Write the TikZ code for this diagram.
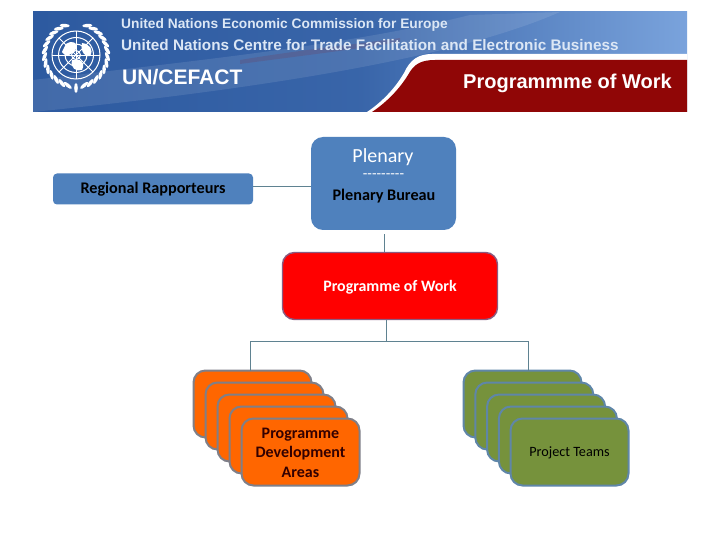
\documentclass[tikz,border=0pt]{standalone}
\usepackage{fontspec}
\setmainfont{Carlito}
\newfontfamily\bannerfont{Liberation Sans}
\usetikzlibrary{shapes.geometric,calc}
\definecolor{bluefill}{HTML}{4F81BD}
\definecolor{linecol}{HTML}{5F8291}
\definecolor{redborder}{HTML}{8A5A80}
\definecolor{orangefill}{HTML}{FF6600}
\definecolor{orangeborder}{HTML}{7F7F88}
\definecolor{greenfill}{HTML}{76923C}
\definecolor{greenborder}{HTML}{5F86A8}
\definecolor{bannerdark}{HTML}{2D5AA0}
\definecolor{bannerlight}{HTML}{7AA3DC}
\definecolor{bannerred}{HTML}{900606}
\definecolor{bannertext}{HTML}{DCE7F5}
\tikzset{
  boxbase/.style={rounded corners=12pt,inner sep=0pt,align=center,outer sep=0pt},
  bluebox/.style={boxbase,fill=bluefill},
  redbox/.style={boxbase,fill=red,draw=redborder,line width=1.4pt,minimum width=215pt,minimum height=67pt},
  orangebox/.style={boxbase,fill=orangefill,draw=orangeborder,line width=2pt,minimum width=118pt,minimum height=67pt},
  greenbox/.style={boxbase,fill=greenfill,draw=greenborder,line width=2pt,minimum width=118pt,minimum height=67pt},
  boxtext/.style={inner sep=0pt,align=center},
  conn/.style={draw=linecol,line width=0.9pt},
  bannertxt/.style={inner sep=0pt,anchor=west,text=bannertext,font=\bannerfont\bfseries},
  leaf/.style={fill=white,draw=none,ellipse,minimum width=10pt,minimum height=3.6pt,inner sep=0pt},
  emb/.style={draw=white,line width=1pt}
}
\begin{document}
\begin{tikzpicture}[x=1pt,y=-1pt]
\useasboundingbox (0,0) rectangle (720,540);
\fill[white] (0,0) rectangle (720,540);
% banner
\shade[left color=bannerdark,right color=bannerlight,middle color=bannerdark!85!bannerlight] (33,12) rectangle (687,112);
\fill[white,opacity=.10] (33,80) .. controls (200,60) and (350,45) .. (470,15) -- (560,12) .. controls (450,60) and (250,90) .. (33,112) -- cycle;
\fill[black!40!red,opacity=.12] (240,60) .. controls (300,50) and (350,45) .. (400,38) -- (400,42) .. controls (350,50) and (300,56) .. (240,64) -- cycle;
\fill[white] (367,112) .. controls (385,100) and (397,85) .. (404,73) .. controls (410,60) and (418,54) .. (432,54) -- (687,54) -- (687,112) -- cycle;
\fill[bannerred] (372,112) .. controls (390,100) and (402,85) .. (408,75) .. controls (414,64) and (421,60) .. (435,60) -- (687,60) -- (687,112) -- cycle;
% emblem
\coordinate (emc) at (76,55);
\draw[emb] (emc) circle[radius=24];
\draw[emb] (emc) circle[radius=17.5];
\draw[emb] (emc) circle[radius=11];
\draw[emb] (emc) circle[radius=4.5];
\foreach \a in {0,45,...,315} \draw[emb,line width=.8pt] (emc) -- ++(\a:24);
\fill[white] (66,44) .. controls (72,40) and (78,42) .. (76,49) .. controls (72,55) and (66,58) .. (62,52) -- cycle;
\fill[white] (82,43) .. controls (90,44) and (94,50) .. (90,56) .. controls (86,58) and (80,52) .. (82,43) -- cycle;
\fill[white] (72,60) .. controls (80,58) and (86,62) .. (82,70) .. controls (76,72) and (70,68) .. (72,60) -- cycle;
\foreach \a in {105,117,...,249} \node[leaf,rotate=-\a+90-25] at ($(76,55)+(\a:31.5)$) {};
\foreach \a in {75,63,...,-69} \node[leaf,rotate=-\a+90+25] at ($(76,55)+(\a:31.5)$) {};
\node[leaf,rotate=90] (emstem) at (76,88) {};
% banner text
\node[bannertxt,font=\bannerfont\bfseries\fontsize{13.76}{15}\selectfont] (bt1) at (121,25) {United Nations Economic Commission for Europe};
\node[bannertxt,font=\bannerfont\bfseries\fontsize{15.3}{17}\selectfont] (bt2) at (121,45) {United Nations Centre for Trade Facilitation and Electronic Business};
\node[bannertxt,text=white,font=\bannerfont\bfseries\fontsize{21}{23}\selectfont] (bt3) at (122,77) {UN/CEFACT};
\node[bannertxt,text=white,font=\bannerfont\bfseries\fontsize{20}{22}\selectfont] (bt4) at (463,83) {Programmme of Work};
% boxes
\node[bluebox,minimum width=145pt,minimum height=93pt] (plen) at (383.5,183.5) {};
\node[boxtext,text=white,font=\fontsize{20}{22}\selectfont] (plent) at (383,157) {Plenary};
\node[boxtext,text=white,font=\fontsize{15}{15}\selectfont] (plend) at (383.5,176.5) {-{}-{}-{}-{}-{}-{}-{}-{}-};
\node[boxtext,text=black,font=\bfseries\fontsize{16.2}{18}\selectfont] (plenb) at (384,196) {Plenary Bureau};
\node[bluebox,rounded corners=4pt,minimum width=200pt,minimum height=31pt,text=black,font=\bfseries\fontsize{16.2}{18}\selectfont] (reg) at (153,189) {Regional Rapporteurs};
\node[redbox] (pow) at (390,286) {};
\node[boxtext,text=white,font=\bfseries\fontsize{15.9}{18}\selectfont] (powt) at (390,287) {Programme of Work};
\coordinate (plenlow) at (384.5,234);
\coordinate (powtop) at (384.5,252);
\coordinate (powlow) at (386,320);
\coordinate (junc) at (386,341.5);
\coordinate (jl) at (250,341.5);
\coordinate (jr) at (528.5,341.5);
\draw[conn] (reg.east |- 0,186.5) -- (plen.west |- 0,186.5);
\draw[conn] (plenlow) -- (powtop);
\draw[conn] (powlow) -- (junc);
\node[orangebox] (oa) at (252.5,404) {};
\node[orangebox] (ob) at (264.5,416) {};
\node[orangebox] (oc) at (276.5,428) {};
\node[orangebox] (od) at (288.5,440) {};
\node[orangebox] (oe) at (300.5,452) {};
\node[boxtext,text=black!80!red,font=\bfseries\fontsize{16}{19.5}\selectfont] (oet) at (300.5,452.5) {Programme\\Development\\Areas};
\node[greenbox] (ga) at (522.5,404) {};
\node[greenbox] (gb) at (534.3,416) {};
\node[greenbox] (gc) at (546.1,428) {};
\node[greenbox] (gd) at (557.9,440) {};
\node[greenbox] (ge) at (569.5,452) {};
\node[boxtext,text=black,font=\fontsize{14.2}{16}\selectfont] (get) at (569.5,453) {Project Teams};
\draw[conn] (oa.north -| jl) -- (jl) -- (jr) -- (ga.north -| jr);
\end{tikzpicture}
\end{document}
